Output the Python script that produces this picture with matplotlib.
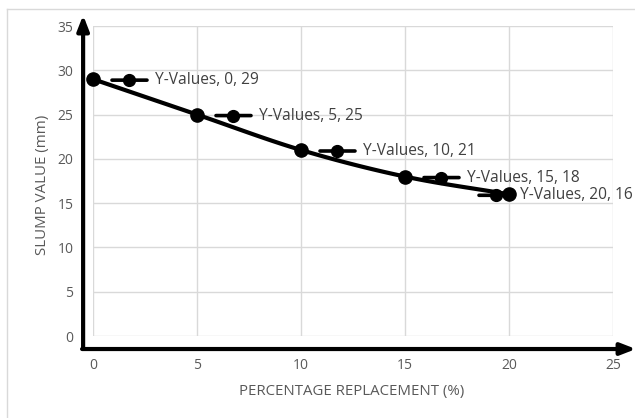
import numpy as np
import matplotlib
matplotlib.use("Agg")
from matplotlib import pyplot as plt
from matplotlib.transforms import offset_copy
from matplotlib.lines import Line2D

# data
x_vals = [0, 5, 10, 15, 20]
y_vals = [29, 25, 21, 18, 16]
x_ticks = [0, 5, 10, 15, 20, 25]
y_ticks = [0, 5, 10, 15, 20, 25, 30, 35]


def smooth(xs, ys, n=30):
    # Catmull-Rom curve through the points, like Excel's smoothed line
    p = np.column_stack([xs, ys]).astype(float)
    p = np.vstack([2 * p[0] - p[1], p, 2 * p[-1] - p[-2]])
    out = []
    for i in range(1, len(p) - 2):
        p0, p1, p2, p3 = p[i - 1], p[i], p[i + 1], p[i + 2]
        t = np.linspace(0, 1, n)[:, None]
        seg = 0.5 * ((2 * p1) + (-p0 + p2) * t + (2 * p0 - 5 * p1 + 4 * p2 - p3) * t ** 2
                     + (-p0 + 3 * p1 - 3 * p2 + p3) * t ** 3)
        out.append(seg)
    out = np.vstack(out)
    return out[:, 0], out[:, 1]


plt.rcParams['font.family'] = ['Open Sans', 'DejaVu Sans']

W, H = 635, 418
fig = plt.figure(figsize=(W / 100, H / 100), dpi=100)
ax = fig.add_axes([93 / W, (H - 336) / H, 520 / W, 310 / H])
ax.set_xlim(0, 25)
ax.set_ylim(0, 35)

ax.set_xticks(x_ticks)
ax.set_yticks(y_ticks)
ax.grid(True, color='#d9d9d9', linewidth=1)
ax.set_axisbelow(True)
for s in ax.spines.values():
    s.set_visible(False)
ax.tick_params(length=0, labelsize=10, labelcolor='#595959')
ax.tick_params(axis='x', pad=16)
ax.tick_params(axis='y', pad=14)

# axes with arrow heads
ax.annotate('', xy=(-0.019, 1.035), xytext=(-0.019, -0.042), xycoords='axes fraction',
            arrowprops=dict(arrowstyle='-|>,head_width=0.35,head_length=0.9', color='black',
                            lw=3, shrinkA=0, shrinkB=0))
ax.annotate('', xy=(1.044, -0.042), xytext=(-0.021, -0.042), xycoords='axes fraction',
            arrowprops=dict(arrowstyle='-|>,head_width=0.35,head_length=0.9', color='black',
                            lw=3, shrinkA=0, shrinkB=0))

sx, sy = smooth(x_vals, y_vals)
ax.plot(sx, sy, color='black', lw=3, clip_on=False, zorder=3)
ax.plot(x_vals, y_vals, 'o', color='black', markersize=9.5, clip_on=False, zorder=4)

# data labels with legend keys (offsets in pixels)
for i, (xv, yv) in enumerate(zip(x_vals, y_vals)):
    if i == len(x_vals) - 1:
        k0, k1, km, tx = -30, 0, -13, 11
    else:
        k0, k1, km, tx = 19, 54, 36, 62
    t0 = offset_copy(ax.transData, fig=fig, x=k0, y=-1, units='dots')
    t1 = offset_copy(ax.transData, fig=fig, x=k1, y=-1, units='dots')
    ax.annotate('', xy=(xv, yv), xycoords=t1, xytext=(xv, yv), textcoords=t0,
                arrowprops=dict(arrowstyle='-', color='black', lw=2.6, shrinkA=0, shrinkB=0),
                annotation_clip=False)
    tm = offset_copy(ax.transData, fig=fig, x=km, y=-1, units='dots')
    ax.plot([xv], [yv], 'o', color='black', markersize=8.5, transform=tm, clip_on=False, zorder=4)
    tt = offset_copy(ax.transData, fig=fig, x=tx, y=-1, units='dots')
    ax.text(xv, yv, 'Y-Values, %d, %d' % (xv, yv), transform=tt, ha='left', va='center',
            fontsize=11.2, color='#404040', clip_on=False)

fig.text(43 / W, 1 - 185 / H, 'SLUMP VALUE (mm)', rotation=90, ha='center', va='center',
         fontsize=10.8, color='#595959')
fig.text(352 / W, 1 - 392 / H, 'PERCENTAGE REPLACEMENT (%)', ha='center', va='center',
         fontsize=10.8, color='#595959')

# light chart border (top and left edges)
fig.add_artist(Line2D([7 / W, 1], [1 - 9 / H, 1 - 9 / H], color='#d9d9d9', lw=1,
                      transform=fig.transFigure))
fig.add_artist(Line2D([7 / W, 7 / W], [0, 1 - 9 / H], color='#d9d9d9', lw=1,
                      transform=fig.transFigure))

fig.savefig('out.png', dpi=100, facecolor='white')
